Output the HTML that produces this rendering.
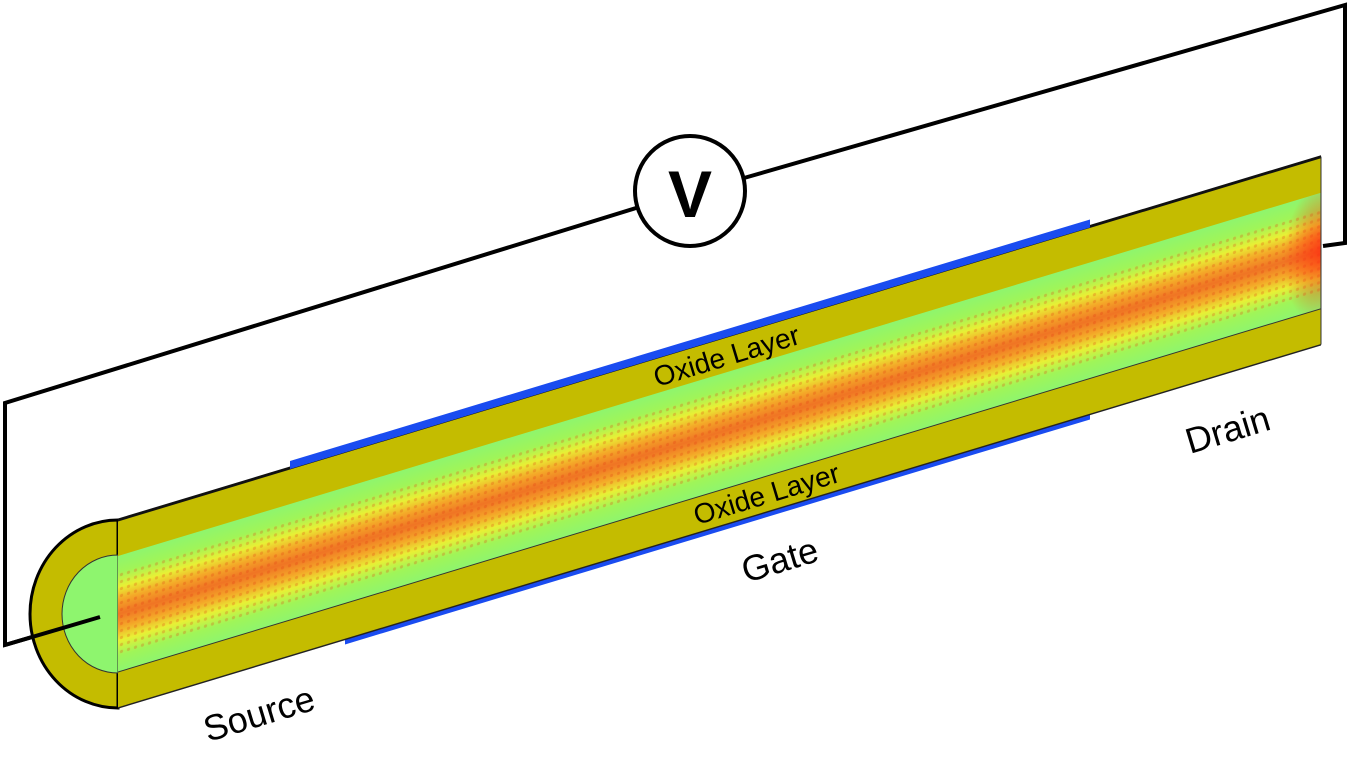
<!DOCTYPE html>
<html><head><meta charset="utf-8"><style>
html,body{margin:0;padding:0;background:#fff;}
svg{display:block;}
text{font-family:"Liberation Sans",sans-serif;fill:#000;}
</style></head><body>
<svg width="1350" height="761" viewBox="0 0 1350 761" xmlns="http://www.w3.org/2000/svg">
<defs>
<linearGradient id="core" x1="0" y1="0" x2="0" y2="1">
<stop offset="0" stop-color="#8ef56e"/>
<stop offset="0.14" stop-color="#a0f558"/>
<stop offset="0.27" stop-color="#e8f035"/>
<stop offset="0.38" stop-color="#f4a828"/>
<stop offset="0.5" stop-color="#f07424"/>
<stop offset="0.62" stop-color="#f4a828"/>
<stop offset="0.73" stop-color="#e8f035"/>
<stop offset="0.86" stop-color="#a0f558"/>
<stop offset="1" stop-color="#8ef56e"/>
</linearGradient>
<pattern id="dots" width="7" height="7" patternUnits="userSpaceOnUse">
<circle cx="3.5" cy="3.5" r="1.6" fill="#e03010" opacity="0.25"/>
</pattern>
<radialGradient id="endred" cx="1" cy="0.5" r="0.6">
<stop offset="0" stop-color="#ff2a10" stop-opacity="0.75"/>
<stop offset="1" stop-color="#ff2a10" stop-opacity="0"/>
</radialGradient>
</defs>

<polyline points="100,617 5,645 5,403 636,208" fill="none" stroke="#000" stroke-width="4"/>
<polyline points="744,178 1345,5 1345,243 1323,246" fill="none" stroke="#000" stroke-width="4"/>
<circle cx="690" cy="191" r="55" fill="#fff" stroke="#000" stroke-width="4"/>
<text x="690" y="217" font-size="66" font-weight="bold" text-anchor="middle">V</text>

<path d="M118,520 A88,94 0 0 0 118,708 Z" fill="#c4bc00" stroke="#000" stroke-width="3"/>
<path d="M118,555 A56,59 0 0 0 118,673 Z" fill="#8ef56e" stroke="#333" stroke-width="1"/>

<g transform="matrix(1,-0.302,0,1,118,614)">
<rect x="172" y="-101" width="800" height="10" fill="#1a4cf0" />
<rect x="227" y="88" width="745" height="11" fill="#1a4cf0" />
<rect x="0" y="-94" width="1203" height="188" fill="#c4bc00"/>
<rect x="0" y="-58" width="1203" height="116" fill="url(#core)"/>
<rect x="0" y="-42" width="1203" height="84" fill="url(#dots)"/>
<rect x="1140" y="-58" width="63" height="116" fill="url(#endred)"/>
<line x1="0" y1="-94" x2="1203" y2="-94" stroke="#111" stroke-width="3"/>
<line x1="0" y1="94" x2="1203" y2="94" stroke="#222" stroke-width="1.5"/>
<line x1="0" y1="58" x2="1203" y2="58" stroke="#333" stroke-width="1"/>
<line x1="1203" y1="-94" x2="1203" y2="94" stroke="#333" stroke-width="1"/>
<rect x="172" y="-99" width="800" height="6" fill="#1a4cf0"/>
</g>
<polyline points="100,617 5,645" fill="none" stroke="#000" stroke-width="4"/>

<text transform="translate(657,387) rotate(-16.8)" font-size="28">Oxide Layer</text>
<text transform="translate(697,525) rotate(-16.8)" font-size="28">Oxide Layer</text>
<text transform="translate(746,583) rotate(-16.8)" font-size="36">Gate</text>
<text transform="translate(1190,454) rotate(-16.8)" font-size="36">Drain</text>
<text transform="translate(208,742) rotate(-16.8)" font-size="36">Source</text>
</svg>
</body></html>
